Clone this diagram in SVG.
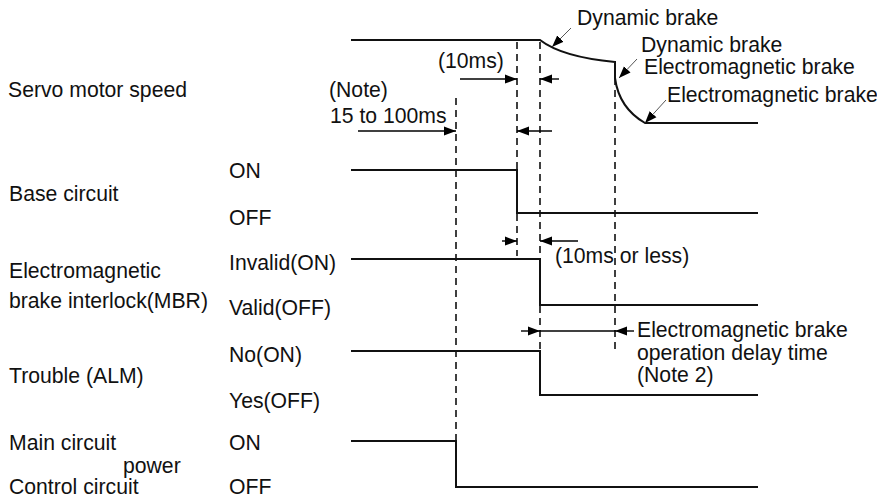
<svg xmlns="http://www.w3.org/2000/svg" width="877" height="499" viewBox="0 0 877 499">
<defs>
<marker id="ah" markerUnits="userSpaceOnUse" markerWidth="12" markerHeight="10" refX="12" refY="5" orient="auto" viewBox="0 0 12 10"><path d="M0,0.5 L12,5 L0,9.5 z" fill="#000"/></marker>
<style>
text{font-family:"Liberation Sans",Arial,sans-serif;font-size:21.2px;fill:#111}
.sig{fill:none;stroke:#111;stroke-width:2}
.dash{fill:none;stroke:#000;stroke-width:1.5;stroke-dasharray:7,5}
.dim{fill:none;stroke:#000;stroke-width:1.4}
.lead{fill:none;stroke:#555;stroke-width:1}
</style>
</defs>
<g id="labels">
<text x="8" y="97">Servo motor speed</text>
<text x="9" y="201">Base circuit</text>
<text x="229" y="178">ON</text>
<text x="229" y="225">OFF</text>
<text x="9" y="278">Electromagnetic</text>
<text x="9" y="308">brake interlock(MBR)</text>
<text x="229" y="270">Invalid(ON)</text>
<text x="229" y="315">Valid(OFF)</text>
<text x="9" y="383">Trouble (ALM)</text>
<text x="229" y="362">No(ON)</text>
<text x="229" y="408">Yes(OFF)</text>
<text x="9" y="450">Main circuit</text>
<text x="123" y="473">power</text>
<text x="9" y="494">Control circuit</text>
<text x="229" y="450">ON</text>
<text x="229" y="494">OFF</text>
</g>
<g id="dashed-lines">
<line class="dash" x1="456" y1="98" x2="456" y2="441"/>
<line class="dash" x1="517" y1="42" x2="517" y2="170"/>
<line class="dash" x1="517" y1="214" x2="517" y2="256"/>
<line class="dash" x1="540" y1="42" x2="540" y2="259"/>
<line class="dash" x1="540" y1="306" x2="540" y2="350"/>
<line class="dash" x1="615" y1="78" x2="615" y2="350"/>
</g>
<g id="servo-speed">
<path class="sig" d="M351,40 H540 Q562,57 615,62 V78 Q619,108 645,123 H758"/>
</g>
<g id="base-circuit">
<path class="sig" d="M351,170 H517 V213 H758"/>
</g>
<g id="mbr">
<path class="sig" d="M351,259 H540 V305 H758"/>
</g>
<g id="trouble">
<path class="sig" d="M351,351 H540 V395 H758"/>
</g>
<g id="power">
<path class="sig" d="M351,441 H456 V487 H758"/>
</g>
<g id="connectors">
<line class="dim" x1="460" y1="79" x2="517" y2="79" marker-end="url(#ah)"/>
<line class="dim" x1="559" y1="79" x2="540" y2="79" marker-end="url(#ah)"/>
<line class="dim" x1="358" y1="131" x2="456" y2="131" marker-end="url(#ah)"/>
<line class="dim" x1="552" y1="131" x2="517" y2="131" marker-end="url(#ah)"/>
<line class="dim" x1="502" y1="241" x2="517" y2="241" marker-end="url(#ah)"/>
<line class="dim" x1="578" y1="241" x2="540" y2="241" marker-end="url(#ah)"/>
<line class="dim" x1="521" y1="331" x2="540" y2="331" marker-end="url(#ah)"/>
<line class="dim" x1="540" y1="331" x2="615" y2="331"/>
<line class="dim" x1="634" y1="331" x2="615" y2="331" marker-end="url(#ah)"/>
<line class="lead" x1="571" y1="28" x2="552" y2="47" marker-end="url(#ah)"/>
<line class="lead" x1="637" y1="59" x2="619" y2="78" marker-end="url(#ah)"/>
<line class="lead" x1="666" y1="100" x2="645" y2="123" marker-end="url(#ah)"/>
</g>
<g id="annotations">
<text x="438" y="68">(10ms)</text>
<text x="329" y="97">(Note)</text>
<text x="330" y="123">15 to 100ms</text>
<text x="577" y="25">Dynamic brake</text>
<text x="641" y="52">Dynamic brake</text>
<text x="644" y="74">Electromagnetic brake</text>
<text x="667" y="102">Electromagnetic brake</text>
<text x="555" y="263">(10ms or less)</text>
<text x="637" y="337">Electromagnetic brake</text>
<text x="637" y="360">operation delay time</text>
<text x="637" y="382">(Note 2)</text>
</g>
</svg>
